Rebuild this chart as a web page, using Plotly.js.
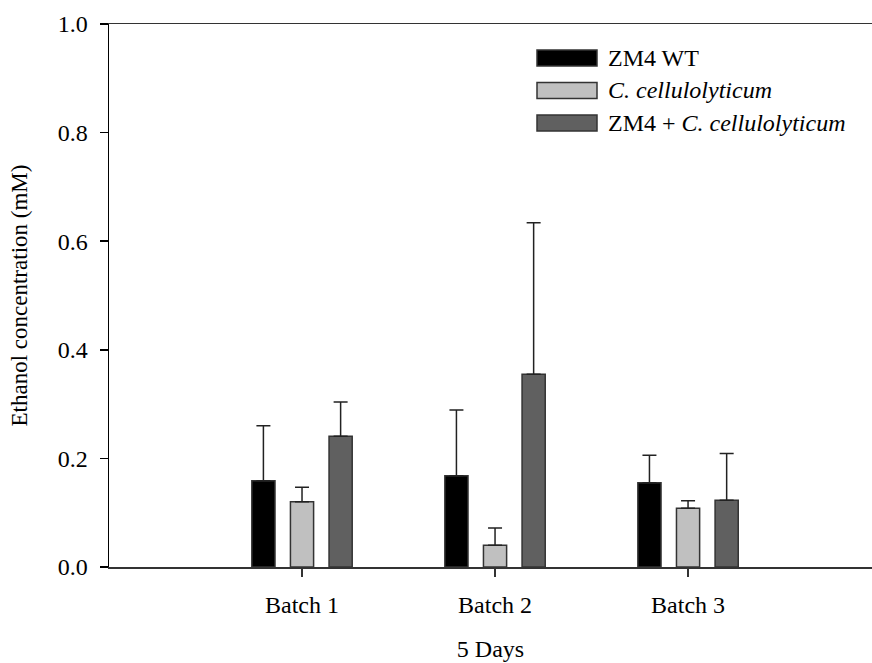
<!DOCTYPE html>
<html>
<head>
<meta charset="utf-8">
<script src="https://cdn.plot.ly/plotly-3.0.1.min.js"></script>
<style>html,body{margin:0;padding:0;background:#fff;}#chart{width:872px;height:663px;}</style>
</head>
<body>
<div id="chart"></div>
<script>
const batches = ["Batch 1", "Batch 2", "Batch 3"];
const seriesNames = ["ZM4 WT", "<i>C. cellulolyticum</i>", "ZM4 + <i>C. cellulolyticum</i>"];
const zm4 = [0.159, 0.168, 0.155];
const zm4Err = [0.101, 0.121, 0.051];
const ccel = [0.120, 0.040, 0.108];
const ccelErr = [0.027, 0.032, 0.014];
const mix = [0.241, 0.355, 0.123];
const mixErr = [0.063, 0.279, 0.086];
const colors = ["#000000", "#c0c0c0", "#606060"];

const values = [zm4, ccel, mix];
const errs = [zm4Err, ccelErr, mixErr];

const serif = "'Liberation Serif', 'Times New Roman', serif";

const traces = values.map((v, i) => ({
  type: "bar",
  x: batches,
  y: v,
  name: seriesNames[i],
  marker: {color: colors[i], line: {color: "#333333", width: 1.5}},
  error_y: {type: "data", array: errs[i], arrayminus: v.map(() => 0), symmetric: false,
            color: "#222222", thickness: 1.5, width: 7},
  showlegend: false,
  hoverinfo: "y"
}));

// custom legend (swatches + labels)
const legRows = [58, 90.5, 123];
const figH = 663, mTop = 24, mBottom = 96, plotH = figH - mTop - mBottom;
const figW = 872, mLeft = 109, plotW = figW - mLeft;
const px2x = p => (p - mLeft) / plotW;
const px2y = p => 1 - (p - mTop) / plotH;
const shapes = [];
const annotations = [];
legRows.forEach((cy, i) => {
  shapes.push({type: "rect", xref: "paper", yref: "paper",
    x0: px2x(537), x1: px2x(597), y0: px2y(cy - 8), y1: px2y(cy + 8),
    fillcolor: colors[i], line: {color: "#333333", width: 1.5}});
  annotations.push({xref: "paper", yref: "paper", x: px2x(606), y: px2y(cy),
    xanchor: "left", yanchor: "middle", showarrow: false, text: seriesNames[i],
    font: {family: serif, size: 24, color: "#000"}});
});

const layout = {
  width: figW, height: figH,
  margin: {l: mLeft, r: 0, t: mTop, b: mBottom, pad: 0},
  paper_bgcolor: "#fff", plot_bgcolor: "#fff",
  barmode: "group", bargap: 0.4, bargroupgap: 0.4,
  font: {family: serif, color: "#000"},
  xaxis: {
    type: "category", range: [-1, 2.953], showgrid: false, zeroline: false,
    showline: true, linecolor: "#333", linewidth: 1.5, mirror: true,
    ticks: "outside", ticklen: 8, tickcolor: "#333", tickwidth: 1.5,
    ticklabelstandoff: 8,
    tickfont: {family: serif, size: 24, color: "#000"},
    title: {text: "5 Days", font: {family: serif, size: 24, color: "#000"}, standoff: 23}
  },
  yaxis: {
    range: [0, 1.0], dtick: 0.2, tickformat: ".1f", showgrid: false, zeroline: false,
    showline: true, linecolor: "#000", linewidth: 1.5,
    ticks: "outside", ticklen: 8, tickcolor: "#000", tickwidth: 1.5,
    ticklabelstandoff: 7,
    tickfont: {family: serif, size: 24, color: "#000"},
    title: {text: "Ethanol concentration (mM)", font: {family: serif, size: 23, color: "#000"}, standoff: 23}
  },
  shapes: shapes,
  annotations: annotations,
  showlegend: false
};

Plotly.newPlot("chart", traces, layout, {displayModeBar: false, staticPlot: true});
</script>
</body>
</html>
